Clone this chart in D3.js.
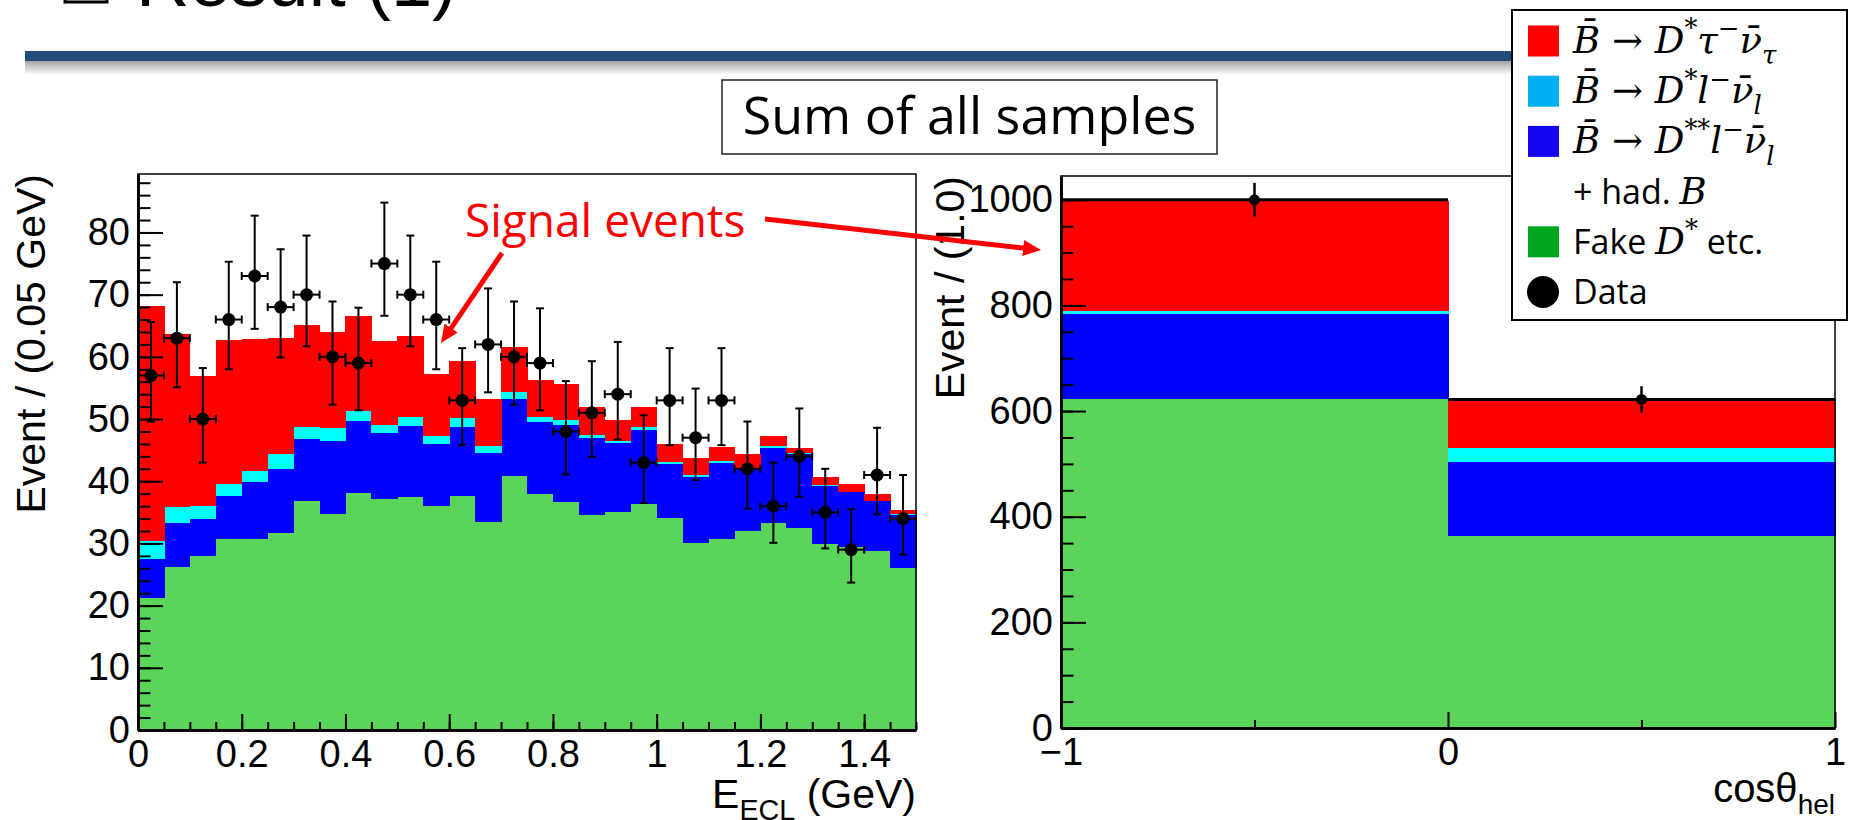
<!DOCTYPE html>
<html>
<head>
<meta charset="utf-8">
<script src="https://cdn.jsdelivr.net/npm/d3@7"></script>
<style>
  body{margin:0;background:#fff;overflow:hidden;}
  svg{display:block;}
</style>
</head>
<body>
<svg id="chart"></svg>
<script>
//values

// left plot: E_ECL, 0.05 GeV bins (lower edges)
var eclBins = [0,0.05,0.1,0.15,0.2,0.25,0.3,0.35,0.4,0.45,0.5,0.55,0.6,0.65,0.7,
               0.75,0.8,0.85,0.9,0.95,1,1.05,1.1,1.15,1.2,1.25,1.3,1.35,1.4,1.45];
var eclFake = [21.3,26.2,28.0,30.7,30.7,31.7,36.8,34.7,38.1,37.2,37.5,36.0,37.6,33.5,40.9,
               37.9,36.6,34.6,35.0,36.4,34.1,30.0,30.7,32.0,33.3,32.5,29.9,29.5,28.8,26.0];
var eclDss  = [6.2,7.1,5.9,6.9,9.1,10.2,10.0,11.8,11.6,10.6,11.4,10.0,11.2,11.1,12.4,
               11.7,12.4,12.4,11.1,11.8,8.6,10.7,12.3,10.0,12.1,11.9,9.3,8.7,8.0,8.6];
var eclDstL = [2.9,2.5,2.1,2.0,1.8,2.4,2.0,2.1,1.6,1.2,1.4,1.2,1.3,1.1,1.0,
               0.8,0.8,0.5,0.4,0.5,0.4,0.3,0.2,0.2,0.3,0.1,0.2,0.1,0.1,0.1];
var eclTau  = [37.7,27.8,21.0,23.1,21.3,18.8,16.4,15.4,15.3,13.5,13.0,10.1,9.2,7.5,7.3,
               5.8,5.9,4.4,3.3,3.2,2.9,2.8,2.3,2.1,1.6,0.9,1.2,1.2,1.0,0.7];
var eclData = [57,63,50,66,73,68,70,60,59,75,70,66,53,62,60,
               59,48,51,54,43,53,47,53,42,36,44,35,29,41,34];
var eclErrUp = [8.6,9.0,8.2,9.3,9.7,9.3,9.5,8.9,8.9,9.8,9.5,9.3,8.4,9.0,8.9,
                8.8,8.1,8.3,8.4,7.6,8.4,7.9,8.4,7.6,7.0,7.7,7.0,6.5,7.6,7.0];
var eclErrDn = [7.4,7.9,7.0,8.0,8.5,8.1,8.3,7.7,7.6,8.4,8.3,8.0,7.2,7.7,7.7,
                7.6,6.9,7.1,7.3,6.5,7.2,6.8,7.2,6.4,5.9,6.5,5.8,5.3,6.3,5.8];
var eclXTicks = [0,0.2,0.4,0.6,0.8,1,1.2,1.4];
var eclYTicks = [0,10,20,30,40,50,60,70,80];

// right plot: cos theta_hel, two bins
var cosBins = [-1,0];
var cosFake = [622,364];
var cosDss  = [162,140];
var cosDstL = [6,26];
var cosTau  = [207,92];
var cosData = [1000,622];
var cosErr  = [32,25];
var cosXTicks = [-1,0,1];
var cosYTicks = [0,200,400,600,800,1000];

var stackKeys = ["fake","dss","dstl","tau"];
var stackColors = {"fake":"#5ad55a","dss":"#0000ff","dstl":"#00ffff","tau":"#ff0000"};

var svg = d3.select("#chart").attr("width",1849).attr("height",820);
var defs = svg.append("defs");

var shade = defs.append("linearGradient").attr("id","shade")
    .attr("x1",0).attr("y1",0).attr("x2",0).attr("y2",1);
shade.append("stop").attr("offset","0%").attr("stop-color","#a4a4a4");
shade.append("stop").attr("offset","100%").attr("stop-color","#ffffff");

defs.append("marker").attr("id","head").attr("markerUnits","userSpaceOnUse")
    .attr("markerWidth",20).attr("markerHeight",18)
    .attr("refX",6).attr("refY",8).attr("orient","auto")
  .append("path").attr("d","M0,0L18,8L0,16Z").attr("fill","#ff0000");

//slide header (cut off at the top)
svg.append("rect").attr("x",65).attr("y",-40).attr("width",42).attr("height",42)
   .attr("fill","none").attr("stroke","#000").attr("stroke-width",3);
svg.append("text").attr("x",136).attr("y",6)
   .style("font-family","Liberation Sans").style("font-size","74px")
   .text("Result (1)");
svg.append("rect").attr("x",25).attr("y",61).attr("width",1490).attr("height",14)
   .attr("fill","url(#shade)");
svg.append("rect").attr("x",25).attr("y",51).attr("width",1490).attr("height",10)
   .attr("fill","#244a7c");

function styleAxis(sel){
  sel.attr("font-family","Liberation Sans").attr("font-size",38);
  sel.selectAll("line").attr("stroke","#000").attr("stroke-width",2);
  sel.selectAll("path").attr("stroke","#000").attr("stroke-width",2.5);
  sel.selectAll("text").attr("fill","#000");
}

function drawPanel(c){
  var x = d3.scaleLinear().domain(c.xDomain).range([c.left, c.right]),
      y = d3.scaleLinear().domain([0, c.yMax]).range([c.bottom, c.top]);

  var rows = c.bins.map(function(b,i){
    return {lo:b, fake:c.fake[i], dss:c.dss[i], dstl:c.dstl[i], tau:c.tau[i]};
  });
  var series = d3.stack().keys(stackKeys)(rows);

  var g = svg.append("g");

  g.selectAll("g.layer")
    .data(series)
    .enter().append("g")
      .attr("fill", d=>stackColors[d.key])
    .selectAll("rect")
    .data(d=>d)
    .enter().append("rect")
      .attr("shape-rendering","crispEdges")
      .attr("x", d=>x(d.data.lo))
      .attr("width", d=>x(d.data.lo+c.binW)-x(d.data.lo)+0.6)
      .attr("y", d=>y(d[1]))
      .attr("height", d=>y(d[0])-y(d[1]));

  //ticks point into the frame, ROOT style
  g.append("g").attr("transform","translate(0,"+c.bottom+")")
    .call(d3.axisBottom(x).tickValues(c.xMinor).tickSize(-8).tickSizeOuter(0).tickFormat(""))
    .call(styleAxis);
  g.append("g").attr("transform","translate(0,"+c.bottom+")")
    .call(d3.axisBottom(x).tickValues(c.xTicks).tickSize(-16).tickSizeOuter(0)
          .tickPadding(10).tickFormat(d3.format("")))
    .call(styleAxis);
  g.append("g").attr("transform","translate("+c.left+",0)")
    .call(d3.axisLeft(y).tickValues(c.yMinor).tickSize(-12.5).tickSizeOuter(0).tickFormat(""))
    .call(styleAxis);
  g.append("g").attr("transform","translate("+c.left+",0)")
    .call(d3.axisLeft(y).tickValues(c.yTicks).tickSize(-25).tickSizeOuter(0)
          .tickPadding(8).tickFormat(d3.format("")))
    .call(styleAxis);

  g.append("rect")
    .attr("x",c.left).attr("y",c.top)
    .attr("width",c.right-c.left).attr("height",c.bottom-c.top)
    .attr("fill","none").attr("stroke","#000").attr("stroke-width",1.5);

  var pts = g.selectAll("g.pt")
    .data(c.data.map(function(v,i){
      return {lo:c.bins[i], v:v, up:c.errUp[i], dn:c.errDn[i]};
    }))
    .enter().append("g")
      .attr("stroke","#000");

  var mid = d=>x(d.lo+c.binW/2);
  pts.append("line")
    .attr("x1",mid).attr("x2",mid)
    .attr("y1",d=>y(d.v+d.up)).attr("y2",d=>y(d.v-d.dn))
    .attr("stroke-width",c.vw);
  pts.append("line")
    .attr("x1",d=>x(d.lo)).attr("x2",d=>x(d.lo+c.binW))
    .attr("y1",d=>y(d.v)).attr("y2",d=>y(d.v))
    .attr("stroke-width",c.hw);

  if(c.caps){
    [d=>d.v+d.up, d=>d.v-d.dn].forEach(function(f){
      pts.append("line")
        .attr("x1",d=>mid(d)-4).attr("x2",d=>mid(d)+4)
        .attr("y1",d=>y(f(d))).attr("y2",d=>y(f(d)))
        .attr("stroke-width",2);
    });
    [d=>d.lo, d=>d.lo+c.binW].forEach(function(f){
      pts.append("line")
        .attr("x1",d=>x(f(d))).attr("x2",d=>x(f(d)))
        .attr("y1",d=>y(d.v)-4).attr("y2",d=>y(d.v)+4)
        .attr("stroke-width",2);
    });
  }

  pts.append("circle")
    .attr("cx",mid).attr("cy",d=>y(d.v)).attr("r",c.r)
    .attr("fill","#000").attr("stroke","none");

  return g;
}

drawPanel({
  bins:eclBins, binW:0.05, fake:eclFake, dss:eclDss, dstl:eclDstL, tau:eclTau,
  data:eclData, errUp:eclErrUp, errDn:eclErrDn,
  left:138, right:916, top:174, bottom:730,
  xDomain:[0,1.5], yMax:89.4,
  xTicks:eclXTicks, xMinor:d3.range(0,1.5001,0.05),
  yTicks:eclYTicks, yMinor:d3.range(0,89,2),
  caps:true, vw:2, hw:2, r:6.5
});

drawPanel({
  bins:cosBins, binW:1, fake:cosFake, dss:cosDss, dstl:cosDstL, tau:cosTau,
  data:cosData, errUp:cosErr, errDn:cosErr,
  left:1061, right:1835, top:176, bottom:728,
  xDomain:[-1,1], yMax:1045,
  xTicks:cosXTicks, xMinor:[-0.5,0.5],
  yTicks:cosYTicks, yMinor:d3.range(0,1045,50),
  caps:false, vw:2.5, hw:3, r:5.5
});

//axis titles
function addRich(sel, parts, size, mathFont, mathSize){
  var shift = 0, ms = mathSize || size;
  parts.forEach(function(p){
    var isMath = mathFont && p[1]!="r";
    var base = isMath ? ms : size;
    var want = p[1]=="sup" ? -0.42*base : (p[1]=="sub" ? 0.3*base : 0);
    var t = sel.append("tspan").text(p[0]).attr("dy", want-shift);
    shift = want;
    if(p[1]=="sup" || p[1]=="sub") t.style("font-size", (0.7*base)+"px");
    else if(isMath) t.style("font-size", ms+"px");
    if(isMath){
      t.style("font-family",mathFont).style("font-style", p[1]=="op" ? "normal" : "italic");
    }
  });
}

svg.append("text")
  .attr("transform","translate(45,174) rotate(-90)")
  .attr("text-anchor","end")
  .style("font-family","Liberation Sans").style("font-size","41px")
  .text("Event / (0.05 GeV)");
svg.append("text")
  .attr("transform","translate(964,176) rotate(-90)")
  .attr("text-anchor","end")
  .style("font-family","Liberation Sans").style("font-size","41px")
  .text("Event / (1.0)");

var xt1 = svg.append("text").attr("x",916).attr("y",808).attr("text-anchor","end")
  .style("font-family","Liberation Sans").style("font-size","41px");
addRich(xt1, [["E","n"],["ECL","sub"],[" (GeV)","n"]], 41, null);
var xt2 = svg.append("text").attr("x",1835).attr("y",802).attr("text-anchor","end")
  .style("font-family","Liberation Sans").style("font-size","40px");
addRich(xt2, [["cos\u03b8","n"],["hel","sub"]], 40, null);

//annotations
svg.append("rect").attr("x",722).attr("y",80).attr("width",495).attr("height",74)
   .attr("fill","#fff").attr("stroke","#222").attr("stroke-width",1.5);
svg.append("text").attr("x",969.5).attr("y",134).attr("text-anchor","middle")
   .style("font-family","Open Sans").style("font-size","52px")
   .text("Sum of all samples");

svg.append("text").attr("x",465).attr("y",237)
   .style("font-family","Open Sans").style("font-size","46px").attr("fill","#ff0000")
   .text("Signal events");

var arrows = [
  {from:[502,253], to:[441,343]},
  {from:[765,219], to:[1041,250]}
];
arrows.forEach(function(a){
  var dx = a.to[0]-a.from[0], dy = a.to[1]-a.from[1], L = Math.sqrt(dx*dx+dy*dy);
  svg.append("line")
    .attr("x1",a.from[0]).attr("y1",a.from[1])
    .attr("x2",a.to[0]-dx/L*12).attr("y2",a.to[1]-dy/L*12)
    .attr("stroke","#ff0000").attr("stroke-width",5)
    .attr("marker-end","url(#head)");
});

//legend
var legendItems = [
  {color:"#ff0000", parts:[["B\u0304","m"],[" \u2192 ","op"],["D","m"],["*","sup"],["\u03c4","m"],["\u2212","sup"],["\u03bd\u0304","m"],["\u03c4","sub"]]},
  {color:"#00b0f0", parts:[["B\u0304","m"],[" \u2192 ","op"],["D","m"],["*","sup"],["l","m"],["\u2212","sup"],["\u03bd\u0304","m"],["l","sub"]]},
  {color:"#1405ee", parts:[["B\u0304","m"],[" \u2192 ","op"],["D","m"],["**","sup"],["l","m"],["\u2212","sup"],["\u03bd\u0304","m"],["l","sub"]]},
  {color:null,      parts:[["+ had. ","r"],["B","m"]]},
  {color:"#00a51e", parts:[["Fake ","r"],["D","m"],["*","sup"],[" etc.","r"]]},
  {color:"dot",     parts:[["Data","r"]]}
];

svg.append("rect").attr("x",1512).attr("y",10).attr("width",335).attr("height",310)
   .attr("fill","#fff").attr("stroke","#000").attr("stroke-width",2);

legendItems.forEach(function(it,i){
  var cy = 41 + i*50.2;
  if(it.color=="dot"){
    svg.append("circle").attr("cx",1543).attr("cy",cy).attr("r",16).attr("fill","#000");
  } else if(it.color){
    svg.append("rect").attr("x",1528).attr("y",cy-15.5).attr("width",31).attr("height",31)
       .attr("fill",it.color);
  }
  var t = svg.append("text").attr("x",1573).attr("y",cy+12)
    .style("font-family","Open Sans").style("font-size","34px");
  addRich(t, it.parts, 34, "DejaVu Serif", 37);
});
</script>
</body>
</html>
